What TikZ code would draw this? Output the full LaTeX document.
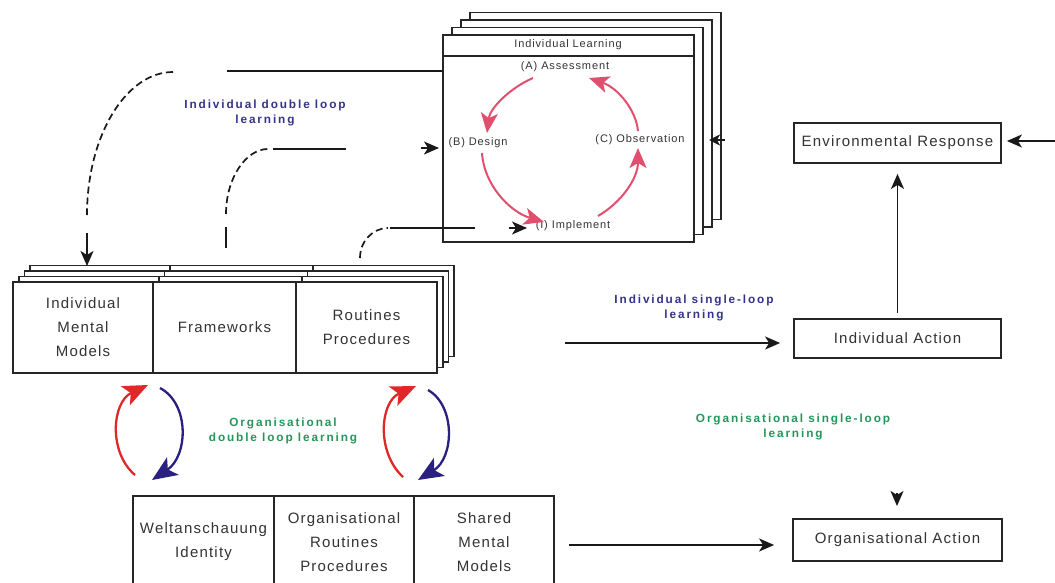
\documentclass[tikz,border=0pt]{standalone}
\usepackage{fontspec}
\setmainfont{Liberation Sans}[LetterSpace=8]
\newfontfamily\tagfont{Liberation Sans}[LetterSpace=16]
\usetikzlibrary{arrows.meta}
\definecolor{navytag}{HTML}{34348A}
\definecolor{greentag}{HTML}{25965A}
\definecolor{cyclered}{HTML}{E0506E}
\definecolor{loopred}{HTML}{E02828}
\definecolor{loopblue}{HTML}{2A2080}
\tikzset{
  box/.style={draw=black!85, line width=1.8pt, fill=white},
  boxtext/.style={box, font=\fontsize{15}{24}\selectfont, text=black!80, align=center, inner sep=0pt},
  cyc/.style={font=\fontsize{11}{13}\selectfont, text=black!80, inner sep=1pt},
  tagblue/.style={font=\tagfont\bfseries\fontsize{11.8}{15}\selectfont, text=navytag, align=center},
  taggreen/.style={font=\tagfont\bfseries\fontsize{11.8}{15}\selectfont, text=greentag, align=center},
  conn/.style={draw=black!90, line width=1.7pt},
  dashconn/.style={conn, dash pattern=on 7pt off 4pt},
  tip/.style={-{Stealth[length=15pt,width=13pt,inset=4pt]}},
  cycarrow/.style={draw=cyclered, line width=2pt, -{Stealth[length=20pt,width=17pt,inset=5pt]}},
  redloop/.style={draw=loopred, line width=2.3pt, -{Stealth[length=25pt,width=21pt,inset=6pt]}},
  blueloop/.style={draw=loopblue, line width=2.3pt, -{Stealth[length=25pt,width=21pt,inset=6pt]}},
}
\begin{document}
\begin{tikzpicture}[x=1pt,y=-1pt]
\clip (0,0) rectangle (1055,583);
\fill[white] (0,0) rectangle (1055,583);

% ---- Individual learning stack ----
\foreach \k in {3,2,1}
  \draw[box] (443+9*\k,35-7.5*\k) rectangle (694+9*\k,242-7.5*\k);
\node[box, minimum width=251pt, minimum height=207pt, inner sep=0pt] (il) at (568.5,138.5) {};
\draw[box] (il.north west |- 0,56) -- (il.north east |- 0,56);
\node[cyc] (iltitle) at (568,45) {Individual Learning};
\node[cyc] (asm) at (565,67) {(A) Assessment};
\node[cyc] (dsg) at (478,143) {(B) Design};
\node[cyc] (obs) at (640,140) {(C) Observation};
\node[cyc] (imp) at (573,226) {(I) Implement};

% learning cycle
\draw[cycarrow] (533,78) .. controls (510,88) and (490,108) .. (487,133);
\draw[cycarrow] (482,153) .. controls (484,185) and (510,212) .. (544,222);
\draw[cycarrow] (598,216) .. controls (622,202) and (638,178) .. (638,148);
\draw[cycarrow] (638,131) .. controls (636,110) and (618,88) .. (589,78);

% ---- Mental model stacks ----
\foreach \k in {3,2,1}{
  \draw[box] (13+5.7*\k,282-5.5*\k) rectangle (153+5.7*\k,373-5.5*\k);
  \draw[box] (153+5.7*\k,282-5.5*\k) rectangle (296+5.7*\k,373-5.5*\k);
  \draw[box] (296+5.7*\k,282-5.5*\k) rectangle (437+5.7*\k,373-5.5*\k);
}
\node[boxtext, minimum width=140pt, minimum height=91pt] (imm) at (83,327.5) {Individual\\Mental\\Models};
\node[boxtext, minimum width=143pt, minimum height=91pt] (frm) at (224.5,327.5) {Frameworks};
\node[boxtext, minimum width=141pt, minimum height=91pt] (rtp) at (366.5,327.5) {Routines\\Procedures};

% ---- Organisational boxes ----
\node[boxtext, minimum width=141pt, minimum height=92pt] (wid) at (203.5,542) {Weltanschauung\\Identity};
\node[boxtext, minimum width=140pt, minimum height=92pt] (orp) at (344,542) {Organisational\\Routines\\Procedures};
\node[boxtext, minimum width=140pt, minimum height=92pt] (smm) at (484,542) {Shared\\Mental\\Models};

% ---- Action boxes ----
\node[boxtext, minimum width=207pt, minimum height=40pt] (env) at (897.5,143) {Environmental Response};
\node[boxtext, minimum width=207pt, minimum height=39pt] (ind) at (897.5,338.5) {Individual Action};
\node[boxtext, minimum width=209pt, minimum height=42pt] (org) at (897.5,540) {Organisational Action};

% ---- Labels ----
\node[tagblue] (lbl1) at (265,113) {Individual double loop\\learning};
\node[tagblue] (lbl2) at (694,308) {Individual single-loop\\learning};
\node[taggreen] (lbl3) at (283,431) {Organisational\\double loop learning};
\node[taggreen] (lbl4) at (793,427) {Organisational single-loop\\learning};

% ---- Individual double loop connectors ----
\coordinate (a1) at (227,71);
\coordinate (a2) at (173,72);
\coordinate (a3) at (87,215);
\coordinate (a4) at (87,233);
\coordinate (a5) at (87,266);
\draw[conn] (il.west |- a1) -- (a1);
\draw[dashconn] (a2) .. controls (126,72) and (87,136) .. (a3);
\draw[conn, tip] (a4) -- (a5);

\coordinate (b1) at (226,248);
\coordinate (b2) at (226,227);
\coordinate (b3) at (226,214);
\coordinate (b4) at (268,149);
\coordinate (b5) at (273,149);
\coordinate (b6) at (346,149);
\coordinate (b7) at (421,148);
\coordinate (b8) at (439,148);
\draw[conn] (b1) -- (b2);
\draw[dashconn] (b3) .. controls (226,178) and (246,149) .. (b4);
\draw[conn] (b5) -- (b6);
\draw[conn, tip] (b7) -- (b8);

\coordinate (d1) at (360,258);
\coordinate (d2) at (388,228);
\coordinate (d3) at (390,228);
\coordinate (d4) at (475,228);
\coordinate (d5) at (509,228);
\coordinate (d6) at (527,228);
\draw[dashconn] (d1) .. controls (360,241) and (373,228) .. (d2);
\draw[conn] (d3) -- (d4);
\draw[conn, tip] (d5) -- (d6);

\coordinate (e1) at (725,140);
\coordinate (e2) at (709,140);
\draw[conn, -{Stealth[length=11pt,width=11pt,inset=3pt]}] (e1) -- (e2);

% ---- Single loop connectors ----
\coordinate (s1) at (565,343);
\draw[conn, tip, shorten >=13pt] (s1) -- (s1 -| ind.west);
\coordinate (s2) at (569,545);
\draw[conn, tip, shorten >=18pt] (s2) -- (s2 -| org.west);
\draw[conn, tip, shorten <=5pt, shorten >=10pt] (ind.north) -- (env.south);
\coordinate (r1) at (1056,141);
\draw[conn, tip, shorten >=5pt] (r1) -- (r1 -| env.east);
\coordinate (t1) at (897,493);
\coordinate (t2) at (897,506);
\draw[conn, tip] (t1) -- (t2);

% ---- Organisational double loop arrows ----
\draw[redloop] (135,475) .. controls (108,452) and (112,402) .. (148,385);
\draw[blueloop] (160,388) .. controls (190,404) and (188,456) .. (152,480);
\draw[redloop] (403,477) .. controls (376,452) and (380,402) .. (416,386);
\draw[blueloop] (428,390) .. controls (456,406) and (454,458) .. (418,480);
\end{tikzpicture}
\end{document}
